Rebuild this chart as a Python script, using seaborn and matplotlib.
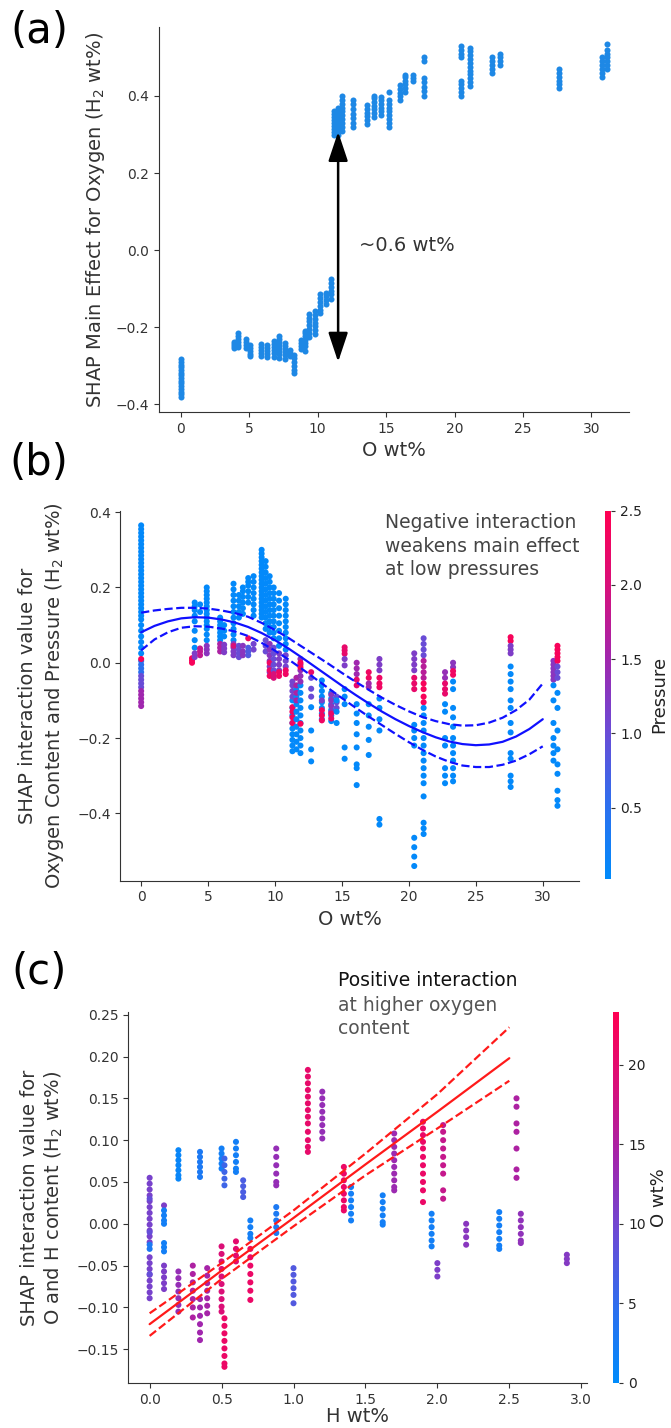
import numpy as np
import pandas as pd
import matplotlib
matplotlib.use("Agg")
import matplotlib.pyplot as plt
from matplotlib.colors import LinearSegmentedColormap, Normalize
from matplotlib.cm import ScalarMappable
import seaborn as sns

sns.set_style("ticks")
plt.rcParams["font.family"] = ["DejaVu Sans"]
AXIS = "#333333"

# ---------------- Panel (a): SHAP main effect of O wt% ----------------
A_COL_X = [0.0, 3.9, 4.2, 4.8, 5.1, 5.9, 6.3, 6.8, 7.2, 7.6, 8.0, 8.3, 8.8, 9.1, 9.4, 9.8,
           10.2, 10.6, 11.0, 11.2, 11.5, 11.8, 12.6, 13.6, 14.1, 14.6, 15.2, 16.0, 16.4,
           17.0, 17.8, 20.5, 21.1, 22.7, 23.3, 27.6, 30.8, 31.1]
A_COL_Y = [
    [-0.283, -0.29, -0.297, -0.304, -0.311, -0.318, -0.325, -0.332, -0.339, -0.346, -0.353, -0.36, -0.367, -0.374, -0.381],
    [-0.238, -0.244, -0.25, -0.253],
    [-0.214, -0.222, -0.23, -0.238, -0.246, -0.252],
    [-0.23, -0.238, -0.246, -0.254],
    [-0.246, -0.254, -0.262, -0.27, -0.274],
    [-0.244, -0.252, -0.26, -0.268, -0.274],
    [-0.246, -0.254, -0.262, -0.27, -0.276],
    [-0.236, -0.244, -0.252, -0.26, -0.268, -0.276],
    [-0.222, -0.23, -0.238, -0.246, -0.254, -0.262, -0.27, -0.28],
    [-0.24, -0.248, -0.256, -0.264, -0.272, -0.282],
    [-0.26, -0.266, -0.274],
    [-0.272, -0.28, -0.29, -0.3, -0.31, -0.318],
    [-0.232, -0.24, -0.248, -0.256],
    [-0.209, -0.216, -0.224, -0.232, -0.24, -0.25, -0.261],
    [-0.165, -0.175, -0.185, -0.195, -0.205, -0.215, -0.225],
    [-0.158, -0.168, -0.178, -0.188, -0.198, -0.208, -0.218],
    [-0.115, -0.125, -0.135, -0.145, -0.155, -0.162],
    [-0.11, -0.12, -0.13, -0.14],
    [-0.075, -0.085, -0.095, -0.105, -0.115, -0.127],
    [0.298, 0.306, 0.314, 0.322, 0.33, 0.338, 0.346, 0.354, 0.36],
    [0.30, 0.31, 0.32, 0.33, 0.34, 0.35, 0.36, 0.37],
    [0.31, 0.32, 0.33, 0.34, 0.35, 0.36, 0.37, 0.38, 0.39, 0.40],
    [0.319, 0.33, 0.342, 0.354, 0.366, 0.378, 0.39],
    [0.327, 0.337, 0.347, 0.357, 0.367, 0.377],
    [0.345, 0.355, 0.365, 0.375, 0.385, 0.395, 0.40],
    [0.35, 0.36, 0.37, 0.38, 0.39, 0.397],
    [0.32, 0.33, 0.34, 0.35, 0.36, 0.37, 0.38, 0.39, 0.41],
    [0.389, 0.399, 0.409, 0.419, 0.429],
    [0.41, 0.42, 0.43, 0.44, 0.45, 0.455],
    [0.44, 0.447, 0.454],
    [0.401, 0.412, 0.423, 0.435, 0.447, 0.49, 0.50],
    [0.40, 0.41, 0.42, 0.43, 0.44, 0.50, 0.51, 0.52, 0.53],
    [0.426, 0.436, 0.446, 0.456, 0.466, 0.476, 0.486, 0.496, 0.506, 0.516, 0.525],
    [0.46, 0.47, 0.48, 0.49, 0.50],
    [0.48, 0.49, 0.50, 0.51],
    [0.42, 0.43, 0.44, 0.45, 0.46, 0.47],
    [0.45, 0.46, 0.47, 0.48, 0.49, 0.50],
    [0.47, 0.48, 0.49, 0.50, 0.51, 0.52, 0.535],
]

# ---------------- Panel (b): O x Pressure interaction ----------------
B_SEG_X = [0.0, 0.0, 0.0, 0.0, 0.0,
           3.8, 4.0, 4.0, 4.4, 4.4, 4.9, 4.9, 5.9, 5.9, 6.2, 6.2,
           6.9, 6.9, 6.9, 7.3, 7.3, 7.6, 7.6, 8.0, 8.0, 8.0, 8.4, 8.4,
           9.0, 9.3, 9.3, 9.6, 9.6, 9.6, 9.9, 9.9, 9.9, 10.3, 10.3, 10.3,
           10.8, 10.8, 10.8, 11.3, 11.3, 11.3, 11.6, 11.6, 11.9, 11.9, 11.9,
           12.7, 12.7, 12.7, 13.5, 13.5, 13.5, 14.2, 14.2, 14.2, 14.6, 14.6,
           15.2, 15.2, 15.2, 16.1, 16.1, 16.1, 17.0, 17.0, 17.0,
           17.8, 17.8, 17.8, 20.4, 20.4, 20.4, 21.1, 21.1, 21.1, 21.1,
           22.7, 22.7, 22.7, 23.3, 23.3, 23.3, 27.6, 27.6, 27.6,
           30.8, 30.8, 31.1, 31.1, 31.1]
B_SEG_P = [0.05, 0.5, 1.0, 1.5, 2.4,
           2.4, 0.05, 1.2, 1.8, 0.05, 0.05, 1.3, 0.05, 1.6, 0.05, 1.2,
           0.05, 1.2, 2.0, 0.05, 1.0, 0.05, 1.3, 0.05, 0.8, 2.3, 0.05, 1.1,
           0.05, 0.05, 1.0, 0.05, 1.3, 2.3, 0.05, 1.0, 2.0, 0.05, 1.2, 2.3,
           0.05, 1.1, 2.3, 0.05, 1.1, 2.3, 0.05, 1.6, 0.05, 1.4, 2.4,
           2.2, 1.0, 0.05, 0.05, 2.3, 1.2, 0.05, 1.3, 2.2, 1.0, 0.05,
           2.2, 1.2, 0.05, 1.5, 2.2, 0.05, 2.3, 1.5, 0.05,
           1.2, 2.3, 0.05, 1.2, 2.2, 0.05, 1.0, 1.7, 2.4, 0.05,
           1.4, 2.2, 0.05, 1.3, 2.3, 0.05, 2.4, 1.2, 0.05,
           1.3, 0.05, 2.4, 1.0, 0.05]
B_SEG_Y = [
    [0.365, 0.355, 0.345, 0.335, 0.325, 0.315, 0.305, 0.295, 0.285, 0.275, 0.265, 0.255, 0.245, 0.235, 0.225, 0.215,
     0.205, 0.195, 0.185, 0.175, 0.165, 0.155, 0.145, 0.135, 0.125, 0.115, 0.10, 0.085, 0.07, 0.055, 0.04, 0.025],
    [0.005, -0.005, -0.015, -0.025],
    [-0.035, -0.045, -0.055, -0.065],
    [-0.075, -0.085, -0.095, -0.105, -0.115],
    [0.01],
    [0.0, 0.006, 0.012],
    [0.16, 0.15, 0.14, 0.125, 0.11, 0.085, 0.06, 0.04],
    [0.015, 0.025],
    [0.02, 0.03, 0.038],
    [0.155, 0.135],
    [0.2, 0.19, 0.18, 0.17, 0.16, 0.15, 0.14, 0.13, 0.12, 0.11, 0.10, 0.09, 0.075, 0.06],
    [0.045, 0.035, 0.025],
    [0.12, 0.11, 0.10, 0.09, 0.08, 0.07, 0.06],
    [0.05, 0.04, 0.03],
    [0.1, 0.085, 0.07],
    [0.048, 0.038, 0.028],
    [0.21, 0.195, 0.18, 0.165, 0.15, 0.135, 0.12, 0.105, 0.09, 0.075, 0.06],
    [0.05, 0.04, 0.03, 0.02],
    [0.045],
    [0.18, 0.165, 0.15, 0.135, 0.12],
    [0.045, 0.035, 0.025, 0.015],
    [0.2, 0.19, 0.175, 0.16, 0.145, 0.13],
    [0.045, 0.03, 0.02],
    [0.225, 0.215, 0.205, 0.19, 0.175, 0.16],
    [0.04, 0.03, 0.02],
    [0.065],
    [0.23, 0.215, 0.2, 0.185, 0.17, 0.155, 0.14, 0.125],
    [0.05, 0.035],
    [0.3, 0.29, 0.28, 0.27, 0.26, 0.25, 0.24, 0.23, 0.22, 0.21, 0.2, 0.19, 0.18, 0.17, 0.16, 0.15, 0.14, 0.13, 0.12],
    [0.27, 0.255, 0.24, 0.225, 0.21, 0.195, 0.18, 0.165, 0.15, 0.135, 0.12, 0.105, 0.09],
    [0.06, 0.045, 0.03],
    [0.23, 0.215, 0.2, 0.185, 0.17, 0.155, 0.14, 0.125, 0.11, 0.095, 0.08],
    [0.05, 0.035, 0.02, 0.005, -0.01, -0.025],
    [0.0, -0.02, -0.035],
    [0.2, 0.185, 0.17, 0.155, 0.14, 0.125, 0.11, 0.095, 0.08, 0.065],
    [0.04, 0.025, 0.01, -0.005, -0.02],
    [-0.03, -0.04],
    [0.185, 0.165, 0.145, 0.125, 0.105, 0.085, 0.065, 0.045],
    [0.025, 0.01, -0.005, -0.02],
    [-0.025, -0.035],
    [0.17, 0.155, 0.14, 0.125, 0.11, 0.095, 0.08, 0.065, 0.05, 0.035],
    [0.02, 0.005, -0.01],
    [-0.02, -0.03],
    [-0.1, -0.12, -0.14, -0.16, -0.175, -0.19, -0.205, -0.22, -0.235],
    [-0.05, -0.06, -0.075, -0.09],
    [-0.118, -0.13, -0.145, -0.16],
    [-0.07, -0.09, -0.11, -0.13, -0.15, -0.17, -0.19, -0.21, -0.23],
    [-0.04, -0.06, -0.08, -0.1],
    [-0.06, -0.08, -0.1, -0.12, -0.14, -0.16, -0.18, -0.2, -0.22, -0.24],
    [0.01, -0.005, -0.02, -0.035, -0.05],
    [0.0, -0.012, -0.162],
    [-0.025],
    [-0.04, -0.069, -0.09],
    [-0.118, -0.18, -0.23, -0.262],
    [-0.047, -0.06, -0.075, -0.09, -0.105, -0.12, -0.135, -0.15],
    [-0.126, -0.14, -0.153],
    [-0.1],
    [-0.08, -0.095, -0.11, -0.125, -0.14, -0.155],
    [-0.085, -0.1, -0.115, -0.13],
    [-0.135, -0.148],
    [-0.09, -0.105, -0.12],
    [-0.1, -0.13, -0.16],
    [0.041, 0.033, 0.024],
    [0.01, -0.007],
    [-0.07, -0.09, -0.11, -0.225, -0.255],
    [0.0, -0.015, -0.03],
    [-0.045, -0.06],
    [-0.11, -0.135, -0.16, -0.19, -0.225, -0.27, -0.28, -0.325],
    [-0.025, -0.04],
    [-0.055, -0.065],
    [-0.11, -0.14, -0.17, -0.205, -0.245],
    [0.01, -0.005, -0.02],
    [-0.04, -0.055, -0.065],
    [-0.095, -0.12, -0.15, -0.18, -0.415, -0.43],
    [0.025, 0.01, -0.005, -0.02],
    [-0.04, -0.055, -0.07],
    [-0.165, -0.18, -0.2, -0.22, -0.465, -0.49, -0.515, -0.54],
    [0.065, 0.05, 0.035, 0.02],
    [0.005, -0.01, -0.025, -0.04],
    [-0.055, -0.07, -0.09, -0.105],
    [-0.12, -0.14, -0.16, -0.18, -0.2, -0.22, -0.24, -0.26, -0.28, -0.3, -0.32, -0.355, -0.425, -0.44, -0.455],
    [-0.025, -0.04],
    [-0.055, -0.07, -0.082],
    [-0.11, -0.13, -0.2, -0.22, -0.28, -0.3, -0.32],
    [0.0, -0.012],
    [-0.022, -0.032],
    [-0.05, -0.07, -0.12, -0.145, -0.17, -0.2, -0.22, -0.24, -0.26, -0.28, -0.3, -0.315],
    [0.068, 0.058],
    [0.045, 0.035, 0.025],
    [-0.01, -0.03, -0.05, -0.07, -0.1, -0.12, -0.16, -0.185, -0.24, -0.255, -0.3, -0.315, -0.33],
    [0.005, -0.005, -0.015, -0.025, -0.035, -0.045],
    [-0.06, -0.1, -0.16, -0.2, -0.22, -0.24, -0.26],
    [0.045, 0.035, 0.025, 0.015, 0.005],
    [-0.01, -0.025, -0.04],
    [-0.08, -0.12, -0.18, -0.23, -0.27, -0.295, -0.34, -0.365, -0.38],
]
B_FIT_X = [0, 1, 2, 3, 4, 5, 6, 7, 8, 9, 10, 11, 12, 13, 14, 15,
           16, 17, 18, 19, 20, 21, 22, 23, 24, 25, 26, 27, 28, 29, 30]
B_FIT_MID = [0.081, 0.098, 0.110, 0.118, 0.121, 0.120, 0.115, 0.107, 0.095, 0.079, 0.060,
             0.038, 0.014, -0.011, -0.036, -0.061, -0.085, -0.108, -0.130, -0.150, -0.168,
             -0.184, -0.198, -0.209, -0.216, -0.219, -0.217, -0.210, -0.196, -0.176, -0.150]
B_FIT_UP = [0.133, 0.139, 0.143, 0.146, 0.146, 0.144, 0.139, 0.132, 0.122, 0.106, 0.087,
            0.066, 0.043, 0.020, -0.003, -0.027, -0.050, -0.072, -0.093, -0.112, -0.129,
            -0.144, -0.155, -0.163, -0.167, -0.166, -0.159, -0.146, -0.126, -0.098, -0.055]
B_FIT_LO = [0.033, 0.062, 0.081, 0.093, 0.097, 0.096, 0.091, 0.083, 0.071, 0.053, 0.032,
            0.009, -0.016, -0.042, -0.068, -0.094, -0.119, -0.143, -0.166, -0.189, -0.211,
            -0.231, -0.249, -0.263, -0.273, -0.277, -0.277, -0.271, -0.260, -0.243, -0.222]

# ---------------- Panel (c): O x H interaction ----------------
C_SEG_X = [0.0, 0.0, 0.0, 0.1, 0.1, 0.1, 0.2, 0.2, 0.3, 0.35, 0.35, 0.4, 0.5, 0.5, 0.52, 0.52,
           0.6, 0.6, 0.65, 0.7, 0.7, 0.88, 0.88, 1.0, 1.1, 1.2, 1.35, 1.4, 1.62, 1.7, 1.9,
           1.96, 2.0, 2.04, 2.2, 2.43, 2.55, 2.58, 2.9]
C_SEG_O = [10.5, 9.0, 3.0, 11.0, 2.0, 11.0, 1.0, 13.0, 15.0, 3.0, 14.0, 14.5, 2.0, 19.0, 6.0, 21.0,
           2.0, 20.0, 7.0, 2.0, 21.0, 13.0, 3.0, 7.5, 20.5, 13.0, 21.0, 2.0, 2.0, 13.5, 21.0,
           2.0, 11.0, 17.0, 12.0, 2.0, 15.0, 12.5, 11.5]
C_SEG_Y = [
    [0.055, 0.048, 0.041, 0.034, 0.027, 0.02, 0.013, 0.006, -0.001, -0.008, -0.015, -0.022,
     -0.04, -0.047, -0.054, -0.061, -0.068, -0.075, -0.082, -0.089],
    [0.03, -0.01, -0.06],
    [-0.03, -0.025],
    [0.022],
    [0.016, 0.01, 0.004, 0.0, -0.023, -0.028, -0.033],
    [-0.05, -0.057, -0.064, -0.071, -0.078],
    [0.088, 0.082, 0.076, 0.07, 0.064, 0.058, 0.054],
    [-0.057, -0.065, -0.073, -0.081, -0.089, -0.097, -0.105],
    [-0.05, -0.06, -0.07, -0.08, -0.09, -0.1, -0.112],
    [0.086, 0.08, 0.074, 0.068, 0.062, 0.056],
    [-0.09, -0.1, -0.11, -0.12, -0.13, -0.139],
    [-0.053, -0.062, -0.071, -0.08, -0.089, -0.098, -0.107],
    [0.09, 0.084, 0.078, 0.072, 0.066],
    [-0.027, -0.036, -0.045, -0.054, -0.063, -0.072, -0.081, -0.09, -0.099, -0.105],
    [0.078, 0.07, 0.062, 0.054, 0.046],
    [-0.113, -0.122, -0.131, -0.14, -0.149, -0.158, -0.167, -0.171],
    [0.098, 0.09, 0.082, 0.074, 0.066, 0.062],
    [-0.021, -0.03, -0.038, -0.045],
    [0.052, 0.045, 0.038, 0.032],
    [0.004, -0.004, -0.012, -0.017],
    [-0.03, -0.04, -0.05, -0.06, -0.07, -0.08, -0.091],
    [0.09, 0.08, 0.07, 0.06, 0.05, 0.046],
    [0.02, 0.012, 0.004, -0.004, -0.011],
    [-0.053, -0.061, -0.069, -0.077, -0.085, -0.095],
    [0.184, 0.176, 0.168, 0.16, 0.152, 0.144, 0.136, 0.128, 0.12, 0.11, 0.1, 0.092, 0.086],
    [0.158, 0.15, 0.142, 0.134, 0.126, 0.118, 0.11, 0.102],
    [0.068, 0.06, 0.052, 0.044, 0.036, 0.028, 0.02, 0.016],
    [0.044, 0.036, 0.028, 0.02, 0.012, 0.004],
    [0.034, 0.026, 0.018, 0.01, 0.002, -0.001],
    [0.108, 0.1, 0.092, 0.084, 0.076, 0.068, 0.06, 0.052, 0.044, 0.04],
    [0.122, 0.114, 0.106, 0.098, 0.09, 0.08, 0.07, 0.06, 0.05, 0.04, 0.026],
    [0.012, 0.004, -0.004, -0.012, -0.02, -0.027],
    [-0.047, -0.055, -0.063],
    [0.118, 0.11, 0.1, 0.09, 0.08, 0.07, 0.06, 0.04, 0.03],
    [0.0, -0.008, -0.016, -0.025],
    [0.014, 0.006, -0.002, -0.01, -0.018, -0.026, -0.03],
    [0.15, 0.14, 0.12, 0.11, 0.09, 0.065, 0.055],
    [0.012, 0.004, -0.004, -0.012, -0.02, -0.023],
    [-0.037, -0.042, -0.047],
]
C_FIT_X = [0.0, 0.5, 1.0, 1.5, 2.0, 2.5]
C_FIT_MID = [-0.120, -0.056, 0.007, 0.071, 0.134, 0.198]
C_FIT_UP = [-0.107, -0.047, 0.016, 0.084, 0.155, 0.235]
C_FIT_LO = [-0.134, -0.066, -0.003, 0.058, 0.114, 0.171]

# ---------------- helpers ----------------
def to_frame(xs, ys, cs=None):
    rows = []
    for i, (x, yl) in enumerate(zip(xs, ys)):
        for y in yl:
            rows.append((x, y, cs[i] if cs is not None else 0.0))
    return pd.DataFrame(rows, columns=["x", "y", "c"])


red_blue = LinearSegmentedColormap.from_list(
    "shap_red_blue",
    [(0.0, "#008bfb"), (0.2, "#2d6fee"), (0.4, "#6a4bd6"),
     (0.6, "#a126ad"), (0.8, "#d8107a"), (1.0, "#ff0052")])

W, H = 671, 1428
DOT = 19
fig = plt.figure(figsize=(W / 100, H / 100), dpi=100)


def px_axes(l, t, r, b):
    return fig.add_axes([l / W, 1 - b / H, (r - l) / W, (b - t) / H])


def style(ax, xlim, ylim, xticks, yticks):
    ax.set_xlim(*xlim)
    ax.set_ylim(*ylim)
    ax.set_xticks(xticks)
    ax.set_yticks(yticks)
    sns.despine(ax=ax)
    for s in ["left", "bottom"]:
        ax.spines[s].set_color(AXIS)
    ax.tick_params(color=AXIS, labelcolor=AXIS, labelsize=10)


def colorbar(cax, norm, ticks, label, pad):
    sm = ScalarMappable(norm=norm, cmap=red_blue)
    cb = fig.colorbar(sm, cax=cax, ticks=ticks)
    cb.outline.set_visible(False)
    cb.ax.tick_params(labelsize=10, length=3, color=AXIS, labelcolor="#222222")
    cb.set_label(label, fontsize=13, color="#222222", labelpad=pad)
    return cb

# ---------------- (a) ----------------
ax_a = px_axes(159, 27, 629, 412)
df_a = to_frame(A_COL_X, A_COL_Y)
sns.scatterplot(data=df_a, x="x", y="y", ax=ax_a, color="#1e88e5", s=DOT,
                linewidth=0, legend=False)
style(ax_a, (-1.58, 32.74), (-0.42, 0.579), [0, 5, 10, 15, 20, 25, 30],
      [-0.4, -0.2, 0.0, 0.2, 0.4])
ax_a.set_xlabel("O wt%", fontsize=14, color=AXIS)
ax_a.set_ylabel("SHAP Main Effect for Oxygen (H$_2$ wt%)", fontsize=14,
                color=AXIS, labelpad=6)
ARROW_X, ARROW_TOP, ARROW_BOT = 11.5, 0.307, -0.29
ax_a.annotate("", xy=(ARROW_X, ARROW_TOP), xytext=(ARROW_X, ARROW_BOT),
              arrowprops=dict(arrowstyle="<|-|>,head_length=0.9,head_width=0.3",
                              mutation_scale=20, color="black", lw=1.8,
                              shrinkA=0, shrinkB=0))
ax_a.text(13.05, 0.011, "~0.6 wt%", fontsize=14, color=AXIS, va="center", ha="left")

# ---------------- (b) ----------------
ax_b = px_axes(120.4, 510.7, 578.5, 880.7)
norm_b = Normalize(vmin=0.02, vmax=2.5)
df_b = to_frame(B_SEG_X, B_SEG_Y, B_SEG_P)
sns.scatterplot(data=df_b, x="x", y="y", hue="c", palette=red_blue, hue_norm=norm_b,
                ax=ax_b, s=DOT, linewidth=0, legend=False)
fit_b = pd.DataFrame({"x": B_FIT_X, "mid": B_FIT_MID, "up": B_FIT_UP, "lo": B_FIT_LO})
sns.lineplot(data=fit_b, x="x", y="mid", ax=ax_b, color="#1010ff", lw=1.6,
             sort=False, estimator=None)
sns.lineplot(data=fit_b, x="x", y="up", ax=ax_b, color="#1010ff", lw=1.6,
             linestyle="--", sort=False, estimator=None)
sns.lineplot(data=fit_b, x="x", y="lo", ax=ax_b, color="#1010ff", lw=1.6,
             linestyle="--", sort=False, estimator=None)
style(ax_b, (-1.55, 32.67), (-0.579, 0.404), [0, 5, 10, 15, 20, 25, 30],
      [-0.4, -0.2, 0.0, 0.2, 0.4])
ax_b.set_xlabel("O wt%", fontsize=14, color=AXIS)
ax_b.set_ylabel("SHAP interaction value for\nOxygen Content and Pressure (H$_2$ wt%)",
                fontsize=14, color=AXIS, labelpad=8, linespacing=1.35)
ax_b.text(18.2, 0.397, "Negative interaction\nweakens main effect\nat low pressures",
          fontsize=13.5, color="#444444", va="top", ha="left", linespacing=1.3)
cax_b = px_axes(605, 510.7, 611, 879)
colorbar(cax_b, norm_b, [0.5, 1.0, 1.5, 2.0, 2.5], "Pressure", 6)

# ---------------- (c) ----------------
ax_c = px_axes(128.2, 1011.7, 587, 1383.3)
norm_c = Normalize(vmin=0.0, vmax=23.35)
df_c = to_frame(C_SEG_X, C_SEG_Y, C_SEG_O)
sns.scatterplot(data=df_c, x="x", y="y", hue="c", palette=red_blue, hue_norm=norm_c,
                ax=ax_c, s=DOT, linewidth=0, legend=False)
fit_c = pd.DataFrame({"x": C_FIT_X, "mid": C_FIT_MID, "up": C_FIT_UP, "lo": C_FIT_LO})
sns.lineplot(data=fit_c, x="x", y="mid", ax=ax_c, color="#ff1a1a", lw=1.6,
             sort=False, estimator=None)
sns.lineplot(data=fit_c, x="x", y="up", ax=ax_c, color="#ff1a1a", lw=1.6,
             linestyle="--", sort=False, estimator=None)
sns.lineplot(data=fit_c, x="x", y="lo", ax=ax_c, color="#ff1a1a", lw=1.6,
             linestyle="--", sort=False, estimator=None)
style(ax_c, (-0.149, 3.04), (-0.1907, 0.2536), [0.0, 0.5, 1.0, 1.5, 2.0, 2.5, 3.0],
      [-0.15, -0.10, -0.05, 0.0, 0.05, 0.10, 0.15, 0.20, 0.25])
ax_c.set_xlabel("H wt%", fontsize=14, color=AXIS, labelpad=0)
ax_c.set_ylabel("SHAP interaction value for\nO and H content (H$_2$ wt%)",
                fontsize=14, color=AXIS, labelpad=8, linespacing=1.2)
ax_c.text(1.312, 0.2915, "Positive interaction", fontsize=13.5, color="#111111",
          va="center", ha="left", clip_on=False)
ax_c.text(1.312, 0.2616, "at higher oxygen", fontsize=13.5, color="#555555",
          va="center", ha="left", clip_on=False)
ax_c.text(1.312, 0.233, "content", fontsize=13.5, color="#555555",
          va="center", ha="left", clip_on=False)
cax_c = px_axes(613, 1011.7, 619, 1382.7)
colorbar(cax_c, norm_c, [0, 5, 10, 15, 20], "O wt%", 3)

# ---------------- panel letters ----------------
for lab, yc in [("(a)", 31.5), ("(b)", 463), ("(c)", 972)]:
    fig.text(39 / W, 1 - yc / H, lab, fontsize=30, ha="center", va="center",
             color="black")

fig.savefig("out.png", dpi=100)
